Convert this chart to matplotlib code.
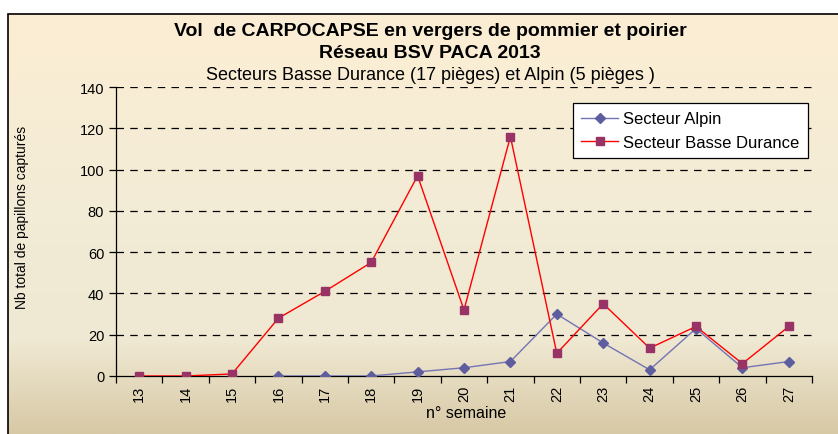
import numpy as np
import matplotlib
matplotlib.use("Agg")
import matplotlib.pyplot as plt
from matplotlib.colors import LinearSegmentedColormap
from matplotlib.patches import Rectangle

plt.rcParams['font.family'] = ['Liberation Sans', 'DejaVu Sans']

weeks = ["13", "14", "15", "16", "17", "18", "19", "20", "21", "22", "23", "24", "25", "26", "27"]
alpin = [None, None, None, 0, 0, 0, 2, 4, 7, 30, 16, 3, 23, 4, 7]
basse_durance = [0, 0, 1, 28, 41, 55, 97, 32, 116, 11, 35, 13.5, 24, 6, 24]
yticks = [0, 20, 40, 60, 80, 100, 120, 140]

fig = plt.figure(figsize=(8.38, 4.35), dpi=100)
fig.patch.set_facecolor('white')

# background gradient panel
bg = fig.add_axes([0, 0, 1, 1], zorder=-10)
bg.set_axis_off()
cmap = LinearSegmentedColormap.from_list('bg', [(0, '#FCEED4'), (0.55, '#F1EBD6'), (0.78, '#EFE8D2'), (1, '#D8C9A6')])
grad = np.linspace(0, 1, 256).reshape(-1, 1)
bg.imshow(grad, aspect='auto', cmap=cmap, extent=[8/838, 1.0, 0, 1 - 15/435], origin='upper')
bg.set_xlim(0, 1)
bg.set_ylim(0, 1)
bg.add_patch(Rectangle((8/838, -0.01), 1.0, 1 - 15/435 + 0.01, fill=False, edgecolor='black', lw=1.2, transform=bg.transAxes))

ax = fig.add_axes([116/838, 1 - 377/435, (812 - 116)/838, (377 - 88)/435])
ax.patch.set_alpha(0)

x = np.arange(len(weeks))
a_x = [i for i, v in zip(x, alpin) if v is not None]
a_y = [v for v in alpin if v is not None]
ax.plot(a_x, a_y, color='#7474B4', lw=1.0, marker='D', markersize=5,
        markerfacecolor='#5E5E9E', markeredgecolor='#5E5E9E', label='Secteur Alpin', zorder=3)
ax.plot(x, basse_durance, color='#FF0000', lw=1.0, marker='s', markersize=6,
        markerfacecolor='#993366', markeredgecolor='#993366', label='Secteur Basse Durance', zorder=4)

ax.set_xlim(-0.5, len(weeks) - 0.5)
ax.set_ylim(0, 140)
ax.set_yticks(yticks)
ax.set_yticklabels([str(v) for v in yticks], fontsize=10.5)
ax.set_xticks(x)
ax.set_xticklabels(weeks, rotation=90, fontsize=10.5)
ax.tick_params(axis='x', which='major', length=0, pad=6)
ax.set_xticks(np.arange(-0.5, len(weeks), 1), minor=True)
ax.tick_params(axis='x', which='minor', length=5, direction='out', width=0.9)
ax.tick_params(axis='y', length=5, direction='out', width=0.9)

for v in yticks[1:]:
    ax.axhline(v, color='black', lw=0.9, ls=(0, (6, 5)), zorder=1)

for s in ['top', 'right']:
    ax.spines[s].set_visible(False)
ax.spines['left'].set_linewidth(0.9)
ax.spines['bottom'].set_linewidth(0.9)

fig.text(466/838, 1 - 414/435, 'n° semaine', ha='center', va='center', fontsize=11.5)
fig.text(22/838, 1 - 217/435, 'Nb total de papillons capturés', ha='center', va='center',
         rotation=90, fontsize=10)

leg = ax.legend(loc='upper left', bbox_to_anchor=((573 - 116) / 696, 1 - (104 - 88) / 289),
                fontsize=12, frameon=True, fancybox=False, edgecolor='black',
                framealpha=1, facecolor='white', handlelength=2.2, handletextpad=0.3,
                borderpad=0.5, borderaxespad=0, labelspacing=0.5)
leg.get_frame().set_linewidth(0.9)

cx = 430 / 838
fig.text(cx, 1 - 31/435, 'Vol  de CARPOCAPSE en vergers de pommier et poirier', ha='center', va='center',
         fontsize=14, fontweight='bold')
fig.text(cx, 1 - 53/435, 'Réseau BSV PACA 2013', ha='center', va='center', fontsize=14, fontweight='bold')
fig.text(cx, 1 - 75/435, 'Secteurs Basse Durance (17 pièges) et Alpin (5 pièges )', ha='center', va='center',
         fontsize=13)

fig.savefig('out.png', dpi=100)
